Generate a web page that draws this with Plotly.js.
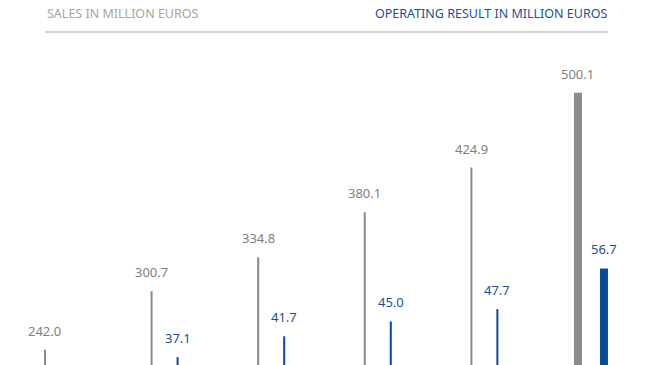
<!DOCTYPE html>
<html>
<head>
<meta charset="utf-8">
<script src="https://cdn.plot.ly/plotly-3.0.1.min.js"></script>
<style>html,body{margin:0;padding:0;background:#fff;}#chart{width:648px;height:365px;}</style>
</head>
<body>
<div id="chart"></div>
<script>
// Data
const sales = [242.0, 300.7, 334.8, 380.1, 424.9, 500.1];
const operating = [null, 37.1, 41.7, 45.0, 47.7, 56.7];
const salesLabels = ["242.0", "300.7", "334.8", "380.1", "424.9", "500.1"];
const operatingLabels = [null, "37.1", "41.7", "45.0", "47.7", "56.7"];
const headerLeft = "SALES IN MILLION EUROS";
const headerRight = "OPERATING RESULT IN MILLION EUROS";

const GRAY = "#8a8a8a", BLUE = "#0b4a96";
const FONT = "Noto Sans, sans-serif";
const pxPerUnit = 106.6;
const off = 13 / pxPerUnit;
const idx = sales.map((_, i) => i);
const widths = idx.map(i => (i === idx.length - 1 ? 8 : 2) / pxPerUnit);

const traceSales = {
  type: "bar", x: idx, y: sales, yaxis: "y",
  width: widths, offset: widths.map(w => -off - w / 2),
  marker: {color: GRAY}, hoverinfo: "skip"
};
const traceOp = {
  type: "bar", x: idx, y: operating, yaxis: "y2",
  width: widths, offset: widths.map(w => off - w / 2),
  marker: {color: BLUE}, hoverinfo: "skip"
};

const annotations = [];
idx.forEach(i => {
  annotations.push({x: i - off, y: sales[i], xref: "x", yref: "y", text: salesLabels[i],
    showarrow: false, yanchor: "bottom", yshift: 8, font: {family: FONT, size: 13, color: "#7f7f7f"}});
  if (operating[i] !== null) {
    annotations.push({x: i + off, y: operating[i], xref: "x", yref: "y2", text: operatingLabels[i],
      showarrow: false, yanchor: "bottom", yshift: 8, font: {family: FONT, size: 13, color: "#1a4f9c"}});
  }
});
annotations.push({x: 45 / 648, y: 1 - 14 / 365, xref: "paper", yref: "paper", xanchor: "left", yanchor: "middle",
  text: headerLeft, showarrow: false, font: {family: FONT, size: 12.5, color: "#a6a6a6"}});
annotations.push({x: 609 / 648, y: 1 - 14 / 365, xref: "paper", yref: "paper", xanchor: "right", yanchor: "middle",
  text: headerRight, showarrow: false, font: {family: FONT, size: 12.5, color: "#1c4f9e"}});

const layout = {
  width: 648, height: 365,
  margin: {l: 0, r: 0, t: 0, b: 0},
  paper_bgcolor: "#fff", plot_bgcolor: "#fff",
  showlegend: false,
  xaxis: {range: [-0.544, 5.535], visible: false, fixedrange: true},
  yaxis: {range: [226.6, 593.3], visible: false, fixedrange: true},
  yaxis2: {range: [35.36, 116.05], visible: false, overlaying: "y", fixedrange: true},
  shapes: [{type: "line", xref: "paper", yref: "paper", x0: 45 / 648, x1: 608 / 648,
    y0: 1 - 32 / 365, y1: 1 - 32 / 365, line: {color: "#d2d2d2", width: 2}}],
  annotations: annotations
};

Plotly.newPlot("chart", [traceSales, traceOp], layout, {displayModeBar: false, staticPlot: true});
</script>
</body>
</html>
